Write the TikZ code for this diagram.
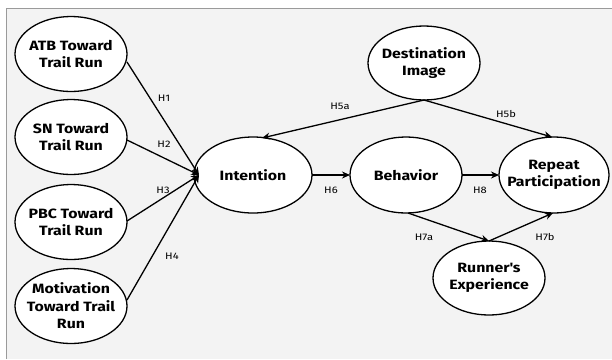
\documentclass[tikz,border=0pt]{standalone}
\usepackage{fontspec}
\setmainfont{Fira Sans}[FakeStretch=1.18]
\usetikzlibrary{arrows.meta}
\definecolor{bgc}{HTML}{F3F3F3}
\definecolor{framec}{HTML}{9A9A9A}
\begin{document}
\begin{tikzpicture}[x=1bp,y=-1bp,
  elt/.style={draw=black,line width=1.3pt,fill=white},
  txt/.style={align=center,font=\bfseries\fontsize{13.5}{17.5}\selectfont},
  arr/.style={line width=1.3pt,-{Stealth[length=8pt,width=7pt]}},
  hl/.style={font=\fontsize{9.5}{10}\selectfont,inner sep=1pt}]
\useasboundingbox (0,0) rectangle (612,359);
\fill[bgc] (6,8) rectangle (612,359);
\draw[framec,line width=1pt] (6,359) -- (6,8) -- (612,8);
\newcommand{\latn}[5]{%
  \filldraw[elt] (#2) ellipse [x radius=#4,y radius=#5];
  \node[txt] (#1) at (#2) {#3};}
\latn{atb}{71,54}{ATB Toward\\Trail Run}{56}{37.5}
\latn{sn}{71,137}{SN Toward\\Trail Run}{56}{37.5}
\latn{pbc}{71,222}{PBC Toward\\Trail Run}{56}{37.5}
\latn{mot}{71,306}{Motivation\\Toward Trail\\Run}{56}{37.5}
\latn{int}{253,175}{Intention}{59}{38}
\latn{beh}{406,175}{Behavior}{56}{38}
\latn{rep}{554,175}{Repeat\\Participation}{55}{38}
\latn{dest}{424,63}{Destination\\Image}{56}{37}
\latn{run}{489,278}{Runner\textquotesingle s\\Experience}{56}{37}
% anchor coordinates on ellipse boundaries
\coordinate (atbE) at (127,62);
\coordinate (snE) at (127,140);
\coordinate (pbcE) at (127,221);
\coordinate (motE) at (127,300);
\coordinate (intW) at (199,175);
\coordinate (intN) at (262,138);
\coordinate (intE) at (312,175);
\coordinate (behW) at (350,175);
\coordinate (behE) at (462,175);
\coordinate (behS) at (408,213);
\coordinate (repW) at (499,175);
\coordinate (repN) at (552,137);
\coordinate (repS) at (553,213);
\coordinate (destS) at (424,100);
\coordinate (runN) at (489,241);
\draw[arr] (atbE) -- (intW);
\draw[arr] (snE) -- (intW);
\draw[arr] (pbcE) -- (intW);
\draw[arr] (motE) -- (intW);
\draw[arr] (destS) -- (intN);
\draw[arr] (destS) -- (repN);
\draw[arr] (intE) -- (behW);
\draw[arr] (behE) -- (repW);
\draw[arr] (behS) -- (runN);
\draw[arr] (runN) -- (repS);
\node[hl] (h1) at (164,98) {H1};
\node[hl] (h2) at (164,144) {H2};
\node[hl] (h3) at (163,190) {H3};
\node[hl] (h4) at (172,256) {H4};
\node[hl] (h5a) at (340,106) {H5a};
\node[hl] (h5b) at (506,114) {H5b};
\node[hl] (h6) at (331,190) {H6};
\node[hl] (h8) at (480,190) {H8};
\node[hl] (h7a) at (424,237) {H7a};
\node[hl] (h7b) at (545,237) {H7b};
\end{tikzpicture}
\end{document}
